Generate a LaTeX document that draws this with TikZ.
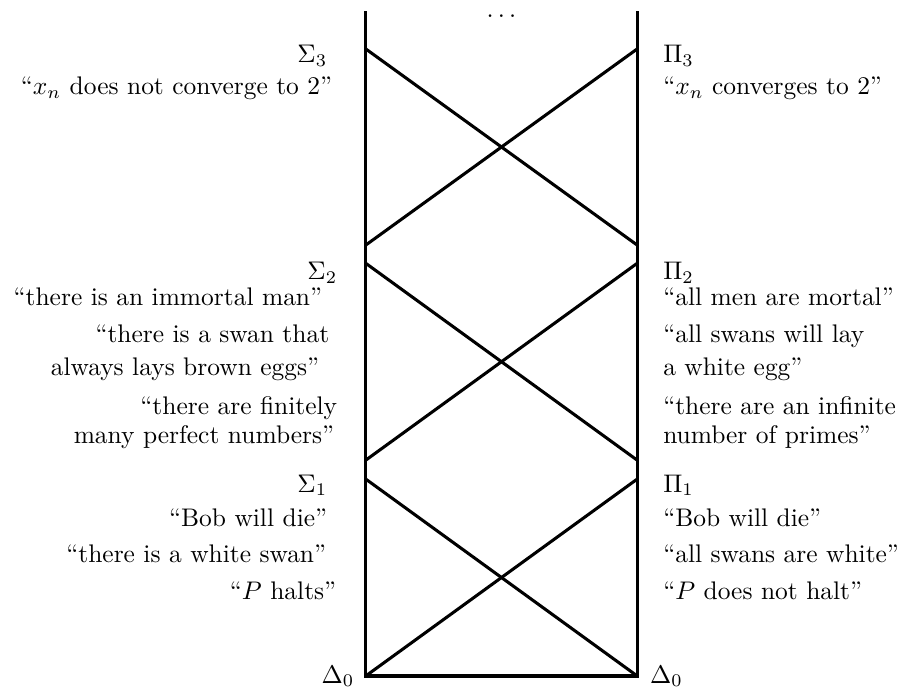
\documentclass[tikz,border=0pt]{standalone}

\begin{document}
\begin{tikzpicture}[
    edge/.style={very thick},
    lhs/.style={inner sep=0pt, anchor=base east},
    rhs/.style={inner sep=0pt, anchor=base west}
  ]
    \useasboundingbox (-5.05,-0.138) rectangle (7.53,9.335);

    % ends of the two uprights and of the crossing lines
    \coordinate (s0) at (0,0);       \coordinate (p0) at (3.75,0);
    \coordinate (s1) at (0,2.72);    \coordinate (p1) at (3.75,2.72);
    \coordinate (s1a) at (0,2.98);   \coordinate (p1a) at (3.75,2.98);
    \coordinate (s2) at (0,5.70);    \coordinate (p2) at (3.75,5.70);
    \coordinate (s2a) at (0,5.95);   \coordinate (p2a) at (3.75,5.95);
    \coordinate (s3) at (0,8.66);    \coordinate (p3) at (3.75,8.66);
    \coordinate (stop) at (0,9.18);  \coordinate (ptop) at (3.75,9.18);

    \draw[edge] (stop) -- (s0) -- (p0) -- (ptop);
    \draw[edge] (s1) -- (p0);
    \draw[edge] (p1) -- (s0);
    \draw[edge] (s2) -- (p1a);
    \draw[edge] (p2) -- (s1a);
    \draw[edge] (s3) -- (p2a);
    \draw[edge] (p3) -- (s2a);

    \node[inner sep=0pt, anchor=base] (dots) at (1.875,9.03) {$\cdots$};

    % left column
    \node[lhs] (sig3) at (-0.525,8.466) {$\Sigma_3$};
    \node[lhs] (sig3a) at (-0.456,8.024) {``$x_n$ does not converge to 2''};
    \node[lhs] (sig2) at (-0.387,5.469) {$\Sigma_2$};
    \node[lhs] (sig2a) at (-0.594,5.110) {``there is an immortal man''};
    \node[lhs] (sig2b) at (-0.497,4.599) {``there is a swan that};
    \node[lhs] (sig2c) at (-0.635,4.143) {always lays brown eggs''};
    \node[lhs] (sig2d) at (-0.387,3.618) {``there are finitely};
    \node[lhs] (sig2e) at (-0.428,3.204) {many perfect numbers''};
    \node[lhs] (sig1) at (-0.525,2.541) {$\Sigma_1$};
    \node[lhs] (sig1a) at (-0.525,2.058) {``Bob will die''};
    \node[lhs] (sig1b) at (-0.539,1.561) {``there is a white swan''};
    \node[lhs] (sig1c) at (-0.400,1.063) {``$P$ halts''};
    \node[lhs] (del0l) at (-0.152,-0.097) {$\Delta_0$};

    % right column
    \node[rhs] (pi3) at (4.102,8.466) {$\Pi_3$};
    \node[rhs] (pi3a) at (4.102,8.024) {``$x_n$ converges to 2''};
    \node[rhs] (pi2) at (4.102,5.469) {$\Pi_2$};
    \node[rhs] (pi2a) at (4.102,5.110) {``all men are mortal''};
    \node[rhs] (pi2b) at (4.102,4.599) {``all swans will lay};
    \node[rhs] (pi2c) at (4.102,4.143) {a white egg''};
    \node[rhs] (pi2d) at (4.102,3.618) {``there are an infinite};
    \node[rhs] (pi2e) at (4.102,3.204) {number of primes''};
    \node[rhs] (pi1) at (4.102,2.541) {$\Pi_1$};
    \node[rhs] (pi1a) at (4.102,2.058) {``Bob will die''};
    \node[rhs] (pi1b) at (4.102,1.561) {``all swans are white''};
    \node[rhs] (pi1c) at (4.102,1.063) {``$P$ does not halt''};
    \node[rhs] (del0r) at (3.922,-0.097) {$\Delta_0$};
\end{tikzpicture}
\end{document}
